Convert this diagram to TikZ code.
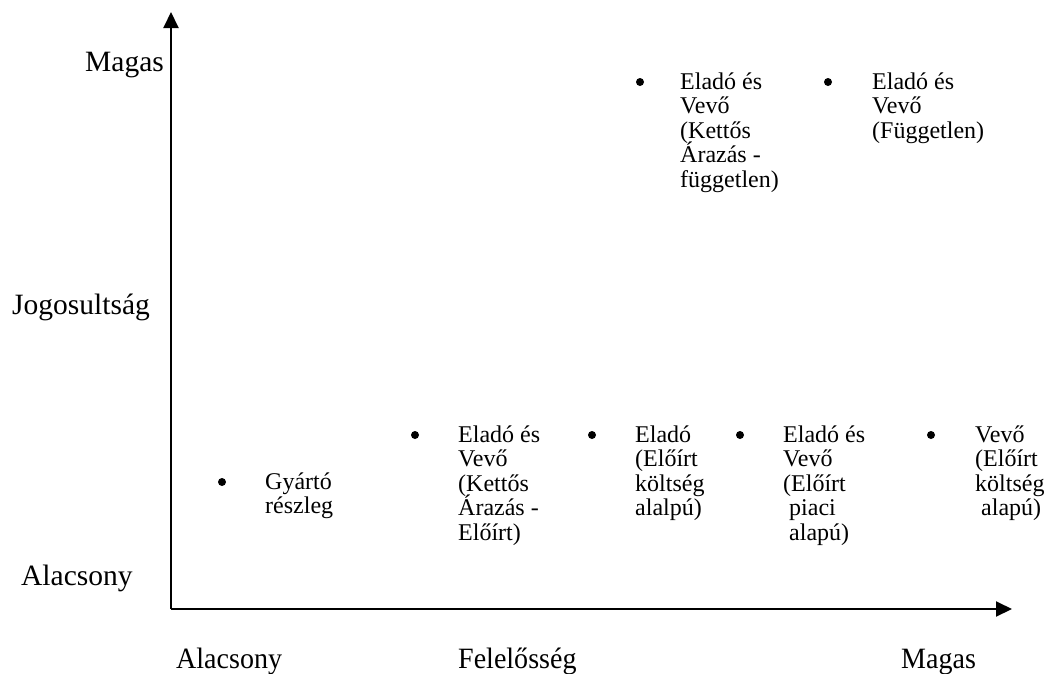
\documentclass[tikz,border=0pt]{standalone}
\usepackage{fontspec}
\setmainfont{Liberation Serif}
\usetikzlibrary{arrows.meta}

% multi-line label whose base is the first line's baseline
\newcommand{\stack}[1]{\vtop{\baselineskip=24.5pt\lineskiplimit=-10pt\halign{##\hfil\cr#1\crcr}}}

\tikzset{
  axis/.style={line width=2pt, -{Triangle[length=16pt,width=15pt]}},
  dot/.style={circle, fill=black, inner sep=0pt, minimum size=8pt},
  item/.style={anchor=base west, inner sep=0pt, font=\fontsize{24}{24.5}\selectfont},
  axlabel/.style={anchor=base west, inner sep=0pt, font=\fontsize{29.5}{32}\selectfont},
}

\begin{document}
\begin{tikzpicture}[x=1pt, y=-1pt]
\useasboundingbox (0,0) rectangle (1045,673);

% axes
\coordinate (origin) at (171,609);
\coordinate (ytip) at (171,12);
\coordinate (xtip) at (1012,609);
\draw[axis] (origin) -- (ytip);
\draw[axis] (origin) -- (xtip);

% vertical axis labels
\node[axlabel] (yhigh) at (85,71) {Magas};
\node[axlabel] (ytitle) at (12,314) {Jogosultság};
\node[axlabel] (ylow) at (21,585) {Alacsony};

% horizontal axis labels
\node[axlabel, xscale=0.95] (xlow) at (176,668) {Alacsony};
\node[axlabel, xscale=0.95] (xtitle) at (458,668) {Felelősség};
\node[axlabel, xscale=0.95] (xhigh) at (901,668) {Magas};

% upper row
\node[dot] (d1) at (640,82) {};
\node[item] (t1) at (680,89) {\stack{Eladó és\cr Vevő\cr (Kettős\cr Árazás -\cr független)}};
\node[dot] (d2) at (828,82) {};
\node[item] (t2) at (872,89) {\stack{Eladó és\cr Vevő\cr (Független)}};

% lower row
\node[dot] (d3) at (222,482) {};
\node[item] (t3) at (265,489) {\stack{Gyártó\cr részleg}};
\node[dot] (d4) at (415,435) {};
\node[item] (t4) at (458,442) {\stack{Eladó és\cr Vevő\cr (Kettős\cr Árazás -\cr Előírt)}};
\node[dot] (d5) at (592,435) {};
\node[item] (t5) at (635,442) {\stack{Eladó\cr (Előírt\cr költség\cr alalpú)}};
\node[dot] (d6) at (740,435) {};
\node[item] (t6) at (783,442) {\stack{Eladó és\cr Vevő\cr (Előírt\cr \ piaci\cr \ alapú)}};
\node[dot] (d7) at (931,435) {};
\node[item] (t7) at (975,442) {\stack{Vevő\cr (Előírt\cr költség\cr \ alapú)}};
\end{tikzpicture}
\end{document}
